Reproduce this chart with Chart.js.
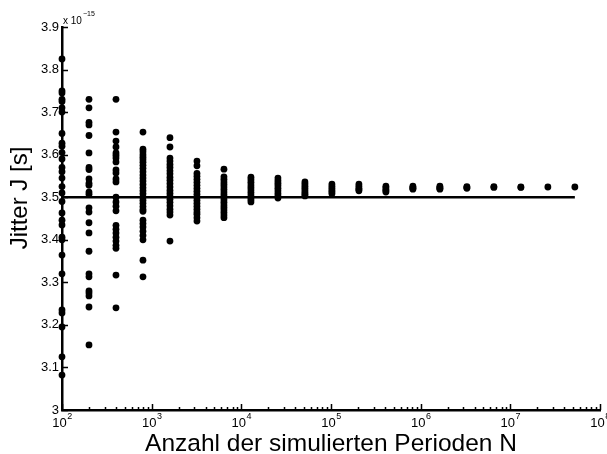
<!DOCTYPE html>
<html>
<head>
<meta charset="utf-8">
<script src="https://cdn.jsdelivr.net/npm/chart.js@4.4.1/dist/chart.umd.min.js"></script>
<style>
html, body { margin: 0; padding: 0; overflow: hidden; background: #fff; }
#wrap { width: 620px; height: 454px; }
</style>
</head>
<body>
<div id="wrap"><canvas id="chart" width="620" height="454"></canvas></div>
<script>
// Anzahl simulierter Perioden je Durchlauf
const perioden = [100, 200, 400, 800, 1600, 3200, 6400, 12800, 25600, 51200, 102400,
    204800, 409600, 819200, 1638400, 3276800, 6553600, 13107200, 26214400, 52428800];

// Jitter-Ergebnisse (in 1e-15 s) pro Periodenzahl
const j100 = [3.825, 3.75, 3.745, 3.73, 3.725, 3.71, 3.70, 3.65, 3.627, 3.62, 3.605, 3.59, 3.57, 3.56,
    3.545, 3.525, 3.51, 3.49, 3.463, 3.446, 3.435, 3.406, 3.40, 3.364, 3.32, 3.235, 3.228, 3.195, 3.125, 3.082];
const j200 = [3.73, 3.71, 3.676, 3.67, 3.645, 3.604, 3.57, 3.565, 3.543, 3.533, 3.528, 3.512, 3.507,
    3.475, 3.465, 3.44, 3.416, 3.373, 3.32, 3.313, 3.28, 3.275, 3.268, 3.242, 3.153];
const j400 = [3.73, 3.653, 3.632, 3.618, 3.604, 3.598, 3.592, 3.583, 3.564, 3.557, 3.543, 3.536, 3.50,
    3.489, 3.479, 3.468, 3.434, 3.425, 3.416, 3.406, 3.397, 3.387, 3.38, 3.317, 3.24];
const j800 = [3.653, 3.613, 3.607, 3.60, 3.594, 3.588, 3.582, 3.575, 3.568, 3.56, 3.552, 3.545, 3.538,
    3.53, 3.522, 3.515, 3.508, 3.50, 3.493, 3.486, 3.478, 3.471, 3.467, 3.446, 3.438, 3.43, 3.42, 3.41,
    3.40, 3.352, 3.313];
const j1600 = [3.64, 3.618, 3.592, 3.585, 3.577, 3.57, 3.562, 3.555, 3.547, 3.54, 3.532, 3.524, 3.516,
    3.509, 3.502, 3.495, 3.488, 3.48, 3.472, 3.465, 3.458, 3.397];
const j3200 = [3.585, 3.574, 3.556, 3.549, 3.542, 3.535, 3.528, 3.521, 3.514, 3.507, 3.50, 3.493,
    3.486, 3.479, 3.472, 3.465, 3.46, 3.452, 3.444];
const j6400 = [3.566, 3.548, 3.542, 3.536, 3.53, 3.524, 3.518, 3.512, 3.506, 3.50, 3.494, 3.488,
    3.482, 3.476, 3.47, 3.464, 3.458, 3.452];
const j12800 = [3.547, 3.541, 3.535, 3.529, 3.523, 3.517, 3.511, 3.505, 3.499, 3.494, 3.489];
const j25600 = [3.545, 3.539, 3.533, 3.527, 3.521, 3.515, 3.509, 3.503, 3.498];
const j51200 = [3.536, 3.531, 3.526, 3.521, 3.516, 3.511, 3.507, 3.503];
const j102400 = [3.531, 3.526, 3.521, 3.516, 3.512, 3.508];
const j204800 = [3.531, 3.526, 3.521, 3.518, 3.515];
const j409600 = [3.526, 3.522, 3.518, 3.515, 3.512];
const j819200 = [3.526, 3.523, 3.521, 3.519];
const j1638400 = [3.526, 3.523, 3.521, 3.519];
const j3276800 = [3.525, 3.523, 3.521];
const j6553600 = [3.525, 3.523];
const j13107200 = [3.524, 3.523];
const j26214400 = [3.524];
const j52428800 = [3.524];

const jitterSpalten = [j100, j200, j400, j800, j1600, j3200, j6400, j12800, j25600, j51200, j102400,
    j204800, j409600, j819200, j1638400, j3276800, j6553600, j13107200, j26214400, j52428800];

// theoretischer Jitterwert
const sollwert = 3.5;

// Achsenbeschriftung
const xTickWerte = [1e2, 1e3, 1e4, 1e5, 1e6, 1e7, 1e8];
const xTitel = 'Anzahl der simulierten Perioden N';
const yTitel = 'Jitter J [s]';

const schrift = "'Liberation Sans', Arial, Helvetica, sans-serif";

const punkte = [];
perioden.forEach((n, i) => {
    jitterSpalten[i].forEach(v => punkte.push({ x: n, y: v }));
});

// Ticks nach innen, Nebenticks, 10^k-Beschriftung, Titel und Exponent
const achsenDeko = {
    id: 'achsenDeko',
    afterDraw(chart) {
        const { ctx, chartArea: { left, right, top, bottom }, scales: { x, y } } = chart;
        ctx.save();
        ctx.strokeStyle = '#000';
        ctx.lineWidth = 1.5;
        ctx.beginPath();
        for (let k = 2; k <= 8; k++) {
            for (let m = 1; m < 10; m++) {
                const v = m * Math.pow(10, k);
                if (v > 1e8) break;
                const px = Math.round(x.getPixelForValue(v)) + 0.5;
                const len = m === 1 ? 6 : 3;
                ctx.moveTo(px, bottom);
                ctx.lineTo(px, bottom - len);
            }
        }
        y.ticks.forEach(t => {
            const py = Math.round(y.getPixelForValue(t.value)) + 0.5;
            ctx.moveTo(left, py);
            ctx.lineTo(left + 6, py);
        });
        ctx.stroke();

        ctx.fillStyle = '#000';
        ctx.textBaseline = 'alphabetic';
        ctx.textAlign = 'left';

        // x-Beschriftung als 10 mit hochgestelltem Exponenten
        xTickWerte.forEach(v => {
            const basis = '10';
            const exp = String(Math.round(Math.log10(v)));
            ctx.font = '13px ' + schrift;
            const wb = ctx.measureText(basis).width;
            ctx.font = '9px ' + schrift;
            const we = ctx.measureText(exp).width;
            const x0 = x.getPixelForValue(v) - (wb + we) / 2;
            ctx.font = '13px ' + schrift;
            ctx.fillText(basis, x0, 427);
            ctx.font = '9px ' + schrift;
            ctx.fillText(exp, x0 + wb + 0.5, 419);
        });

        // Exponent der y-Achse
        ctx.font = '10px ' + schrift;
        ctx.fillText('x 10', left + 1, 24);
        const w = ctx.measureText('x 10').width;
        ctx.font = '7px ' + schrift;
        ctx.fillText('\u221215', left + 2 + w, 16);

        // Achsentitel
        ctx.font = '24.5px ' + schrift;
        ctx.textAlign = 'center';
        ctx.fillText(xTitel, (left + right) / 2, 451);
        ctx.font = '24px ' + schrift;
        ctx.translate(27, 198);
        ctx.rotate(-Math.PI / 2);
        ctx.fillText(yTitel, 0, 0);
        ctx.restore();
    }
};

const config = {
    data: {
        datasets: [
            {
                type: 'scatter',
                data: punkte,
                backgroundColor: '#000',
                borderWidth: 0,
                pointRadius: 3.4,
                clip: false
            },
            {
                type: 'line',
                data: [{ x: perioden[0], y: sollwert }, { x: perioden[perioden.length - 1], y: sollwert }],
                borderColor: '#000',
                borderWidth: 2.5,
                pointRadius: 0,
                clip: false
            }
        ]
    },
    options: {
        responsive: false,
        animation: false,
        layout: { padding: { left: 30, right: 20, top: 27, bottom: 0 } },
        plugins: { legend: { display: false }, tooltip: { enabled: false } },
        scales: {
            x: {
                type: 'logarithmic',
                min: 1e2,
                max: 1e8,
                afterBuildTicks(scale) {
                    scale.ticks = xTickWerte.map(v => ({ value: v }));
                },
                afterFit(scale) { scale.height = 44; },
                grid: { display: false, drawTicks: false },
                border: { display: true, color: '#000', width: 2.5 },
                ticks: { display: false }
            },
            y: {
                type: 'linear',
                min: 3,
                max: 3.9,
                afterFit(scale) { scale.width = 32; },
                grid: { display: false, drawTicks: false },
                border: { display: true, color: '#000', width: 2.5 },
                ticks: {
                    color: '#000',
                    padding: 3,
                    stepSize: 0.1,
                    font: { family: schrift, size: 13 },
                    callback: v => String(Number(v.toFixed(1)))
                }
            }
        }
    },
    plugins: [achsenDeko]
};

const chart = new Chart(document.getElementById('chart'), config);
</script>
</body>
</html>
